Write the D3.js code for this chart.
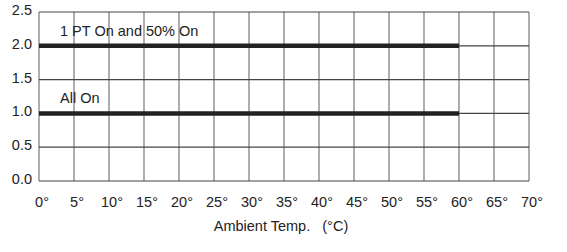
<!DOCTYPE html>
<html>
<head>
<meta charset="utf-8">
<script src="https://cdn.jsdelivr.net/npm/d3@7"></script>
<style>
  body { margin: 0; background: #fff; }
  text { font-family: "Liberation Sans", Arial, sans-serif; fill: #222; }
</style>
</head>
<body>
<div class="chartdiv"></div>
<script>
// chart data
var xTicks = [0, 5, 10, 15, 20, 25, 30, 35, 40, 45, 50, 55, 60, 65, 70];
var yTicks = [0.0, 0.5, 1.0, 1.5, 2.0, 2.5];
var seriesNames = ["1 PT On and 50% On", "All On"];
var seriesValues = [
    [[0, 2.0], [60, 2.0]],
    [[0, 1.0], [60, 1.0]]
];
var xLabel = "Ambient Temp.   (\u00B0C)";

var width = 567, height = 252;
var margin = {top: 12, right: 38, bottom: 71, left: 39};
var fontSize = "14.5px";

var svg = d3.select("div.chartdiv")
    .append("svg")
    .attr("width", width)
    .attr("height", height);

var x = d3.scaleLinear()
    .domain([0, 70])
    .range([margin.left, width - margin.right]);

var y = d3.scaleLinear()
    .domain([0, 2.5])
    .range([height - margin.bottom, margin.top]);

// vertical grid lines
svg.selectAll(".vgrid")
    .data(xTicks)
    .enter()
    .append("line")
    .attr("class", "vgrid")
    .attr("x1", function(d){ return x(d); })
    .attr("x2", function(d){ return x(d); })
    .attr("y1", y(2.5))
    .attr("y2", y(0))
    .style("stroke", "#777")
    .style("stroke-width", 1.2);

// horizontal grid lines
svg.selectAll(".hgrid")
    .data(yTicks)
    .enter()
    .append("line")
    .attr("class", "hgrid")
    .attr("x1", x(0))
    .attr("x2", x(70))
    .attr("y1", function(d){ return y(d); })
    .attr("y2", function(d){ return y(d); })
    .style("stroke", "#444")
    .style("stroke-width", 1.2);

// y tick labels (sit a little above their grid line)
svg.selectAll(".ylab")
    .data(yTicks)
    .enter()
    .append("text")
    .attr("class", "ylab")
    .attr("x", 32)
    .attr("y", function(d){ return y(d) - 2; })
    .attr("dy", "0.35em")
    .attr("text-anchor", "end")
    .style("font-size", fontSize)
    .text(function(d){ return d3.format(".1f")(d); });

// x tick labels
svg.selectAll(".xlab")
    .data(xTicks)
    .enter()
    .append("text")
    .attr("class", "xlab")
    .attr("x", function(d){ return x(d) + 3; })
    .attr("y", 207)
    .attr("text-anchor", "middle")
    .style("font-size", fontSize)
    .text(function(d){ return d + "\u00B0"; });

// axis title
svg.append("text")
    .attr("x", 281)
    .attr("y", 231)
    .attr("text-anchor", "middle")
    .style("font-size", fontSize)
    .style("white-space", "pre")
    .text(xLabel);

// series lines
var line = d3.line()
    .x(function(d){ return x(d[0]); })
    .y(function(d){ return y(d[1]); });

svg.selectAll(".series")
    .data(seriesValues)
    .enter()
    .append("path")
    .attr("class", "series")
    .attr("d", line)
    .style("fill", "none")
    .style("stroke", "#222")
    .style("stroke-width", 4.5);

// series labels
svg.selectAll(".slab")
    .data(seriesNames)
    .enter()
    .append("text")
    .attr("class", "slab")
    .attr("x", x(3))
    .attr("y", function(d, i){ return y(seriesValues[i][0][1]) - 10; })
    .style("font-size", fontSize)
    .text(function(d){ return d; });
</script>
</body>
</html>
